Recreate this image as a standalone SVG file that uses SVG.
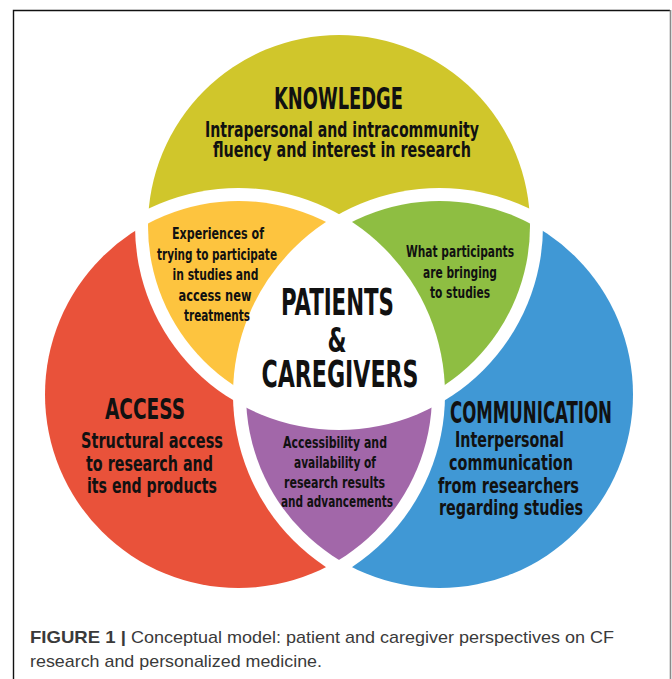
<svg xmlns="http://www.w3.org/2000/svg" width="672" height="679" viewBox="0 0 672 679">
<style>
.t{font-family:"DejaVu Sans Condensed","Liberation Sans Narrow","Liberation Sans",sans-serif;font-weight:bold;fill:#111;text-anchor:middle}
.cap{font-family:"Liberation Sans",Arial,sans-serif;fill:#3a3a3a;font-size:17px}
</style>
<defs>
<clipPath id="inK"><circle cx="339" cy="226" r="191"/></clipPath>
<clipPath id="inA"><circle cx="238.5" cy="394.5" r="193.5"/></clipPath>
<clipPath id="inC"><circle cx="439.5" cy="394.5" r="193.5"/></clipPath>
<mask id="outAC" maskUnits="userSpaceOnUse" x="0" y="0" width="672" height="679"><rect width="672" height="679" fill="#fff"/><circle cx="238.5" cy="394.5" r="206.5" fill="#000"/><circle cx="439.5" cy="394.5" r="206.5" fill="#000"/></mask>
<mask id="outKC" maskUnits="userSpaceOnUse" x="0" y="0" width="672" height="679"><rect width="672" height="679" fill="#fff"/><circle cx="339" cy="226" r="204" fill="#000"/><circle cx="439.5" cy="394.5" r="206.5" fill="#000"/></mask>
<mask id="outKA" maskUnits="userSpaceOnUse" x="0" y="0" width="672" height="679"><rect width="672" height="679" fill="#fff"/><circle cx="339" cy="226" r="204" fill="#000"/><circle cx="238.5" cy="394.5" r="206.5" fill="#000"/></mask>
<mask id="outC" maskUnits="userSpaceOnUse" x="0" y="0" width="672" height="679"><rect width="672" height="679" fill="#fff"/><circle cx="439.5" cy="394.5" r="206.5" fill="#000"/></mask>
<mask id="outA" maskUnits="userSpaceOnUse" x="0" y="0" width="672" height="679"><rect width="672" height="679" fill="#fff"/><circle cx="238.5" cy="394.5" r="206.5" fill="#000"/></mask>
<mask id="outK" maskUnits="userSpaceOnUse" x="0" y="0" width="672" height="679"><rect width="672" height="679" fill="#fff"/><circle cx="339" cy="226" r="204" fill="#000"/></mask>
</defs>
<rect width="672" height="679" fill="#fff"/>
<g id="frame">
<path d="M13.5,679 V10.5 H670" fill="none" stroke="#111" stroke-width="1.4"/>
<path d="M670.5,10 V679" fill="none" stroke="#8a8a8a" stroke-width="1.6"/>
</g>
<g id="knowledge">
<circle cx="339" cy="226" r="191" fill="#D0C62B" mask="url(#outAC)"/>
<text class="t" x="338.5" y="109" font-size="31" textLength="129" lengthAdjust="spacingAndGlyphs">KNOWLEDGE</text>
<text class="t" x="342" y="137" font-size="21" textLength="274" lengthAdjust="spacingAndGlyphs">Intrapersonal and intracommunity</text>
<text class="t" x="342" y="157" font-size="21" textLength="258" lengthAdjust="spacingAndGlyphs">fluency and interest in research</text>
</g>
<g id="access">
<circle cx="238.5" cy="394.5" r="193.5" fill="#E9523A" mask="url(#outKC)"/>
<text class="t" x="145" y="419" font-size="29" textLength="80" lengthAdjust="spacingAndGlyphs">ACCESS</text>
<text class="t" x="152" y="448" font-size="21" textLength="142" lengthAdjust="spacingAndGlyphs">Structural access</text>
<text class="t" x="149.5" y="471" font-size="21" textLength="127" lengthAdjust="spacingAndGlyphs">to research and</text>
<text class="t" x="152" y="493" font-size="21" textLength="130" lengthAdjust="spacingAndGlyphs">its end products</text>
</g>
<g id="communication">
<circle cx="439.5" cy="394.5" r="193.5" fill="#4098D5" mask="url(#outKA)"/>
<text class="t" x="531" y="423" font-size="31" textLength="162" lengthAdjust="spacingAndGlyphs">COMMUNICATION</text>
<text class="t" x="509.5" y="447" font-size="21" textLength="109" lengthAdjust="spacingAndGlyphs">Interpersonal</text>
<text class="t" x="511" y="470" font-size="21" textLength="124" lengthAdjust="spacingAndGlyphs">communication</text>
<text class="t" x="508.5" y="493" font-size="21" textLength="141" lengthAdjust="spacingAndGlyphs">from researchers</text>
<text class="t" x="511" y="515" font-size="21" textLength="144" lengthAdjust="spacingAndGlyphs">regarding studies</text>
</g>
<g id="knowledge-access">
<circle cx="339" cy="226" r="191" fill="#FDC43F" clip-path="url(#inA)" mask="url(#outC)"/>
<text class="t" x="218" y="239" font-size="16.5" textLength="92" lengthAdjust="spacingAndGlyphs">Experiences of</text>
<text class="t" x="217" y="259.5" font-size="16.5" textLength="120" lengthAdjust="spacingAndGlyphs">trying to participate</text>
<text class="t" x="215.5" y="280" font-size="16.5" textLength="86" lengthAdjust="spacingAndGlyphs">in studies and</text>
<text class="t" x="215" y="300.5" font-size="16.5" textLength="73" lengthAdjust="spacingAndGlyphs">access new</text>
<text class="t" x="217" y="321" font-size="16.5" textLength="66" lengthAdjust="spacingAndGlyphs">treatments</text>
</g>
<g id="knowledge-communication">
<circle cx="339" cy="226" r="191" fill="#8EBE42" clip-path="url(#inC)" mask="url(#outA)"/>
<text class="t" x="460" y="257" font-size="16.5" textLength="108" lengthAdjust="spacingAndGlyphs">What participants</text>
<text class="t" x="460" y="278" font-size="16.5" textLength="74" lengthAdjust="spacingAndGlyphs">are bringing</text>
<text class="t" x="460" y="298" font-size="16.5" textLength="60" lengthAdjust="spacingAndGlyphs">to studies</text>
</g>
<g id="access-communication">
<circle cx="238.5" cy="394.5" r="193.5" fill="#A267A9" clip-path="url(#inC)" mask="url(#outK)"/>
<text class="t" x="335" y="448" font-size="16" textLength="104" lengthAdjust="spacingAndGlyphs">Accessibility and</text>
<text class="t" x="335" y="468" font-size="16" textLength="82" lengthAdjust="spacingAndGlyphs">availability of</text>
<text class="t" x="334.5" y="488" font-size="16" textLength="101" lengthAdjust="spacingAndGlyphs">research results</text>
<text class="t" x="337" y="507" font-size="16" textLength="112" lengthAdjust="spacingAndGlyphs">and advancements</text>
</g>
<g id="center">
<text class="t" x="337.5" y="315" font-size="38" textLength="113" lengthAdjust="spacingAndGlyphs">PATIENTS</text>
<text class="t" x="337" y="352" font-size="34" textLength="19" lengthAdjust="spacingAndGlyphs">&amp;</text>
<text class="t" x="340" y="387" font-size="38" textLength="157" lengthAdjust="spacingAndGlyphs">CAREGIVERS</text>
</g>
<g id="caption">
<text class="cap" x="30" y="643" font-weight="bold" textLength="96" lengthAdjust="spacingAndGlyphs">FIGURE 1 |</text>
<text class="cap" x="131" y="643" textLength="483" lengthAdjust="spacingAndGlyphs">Conceptual model: patient and caregiver perspectives on CF</text>
<text class="cap" x="30" y="667" textLength="292" lengthAdjust="spacingAndGlyphs">research and personalized medicine.</text>
</g>
</svg>
